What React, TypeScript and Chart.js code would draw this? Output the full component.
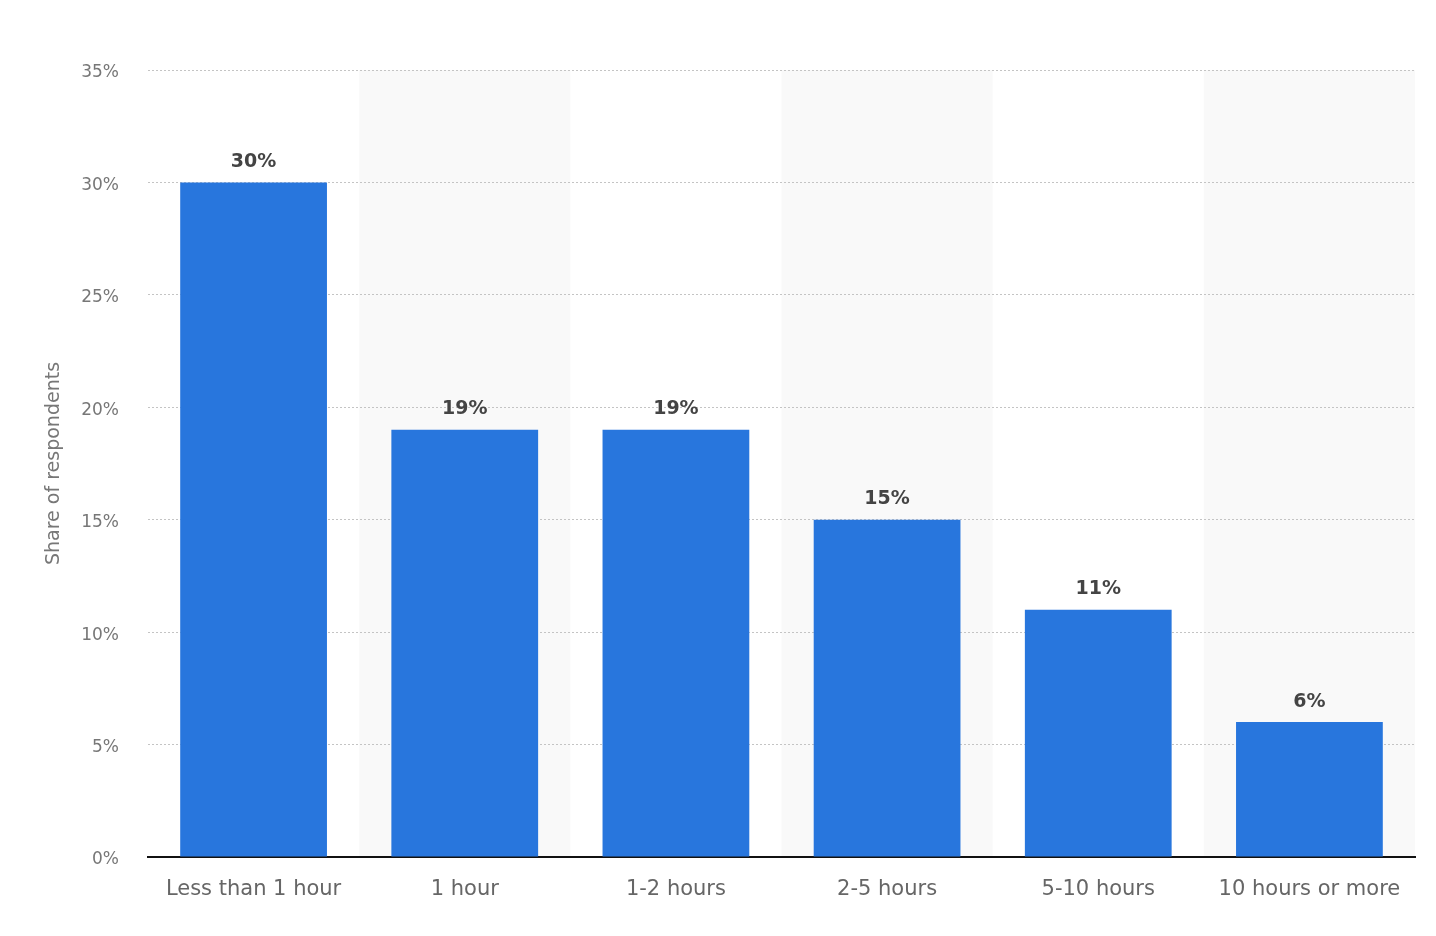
import React, { useEffect, useRef } from 'react';
import Chart from 'chart.js/auto';

const categories = ['Less than 1 hour', '1 hour', '1-2 hours', '2-5 hours', '5-10 hours', '10 hours or more'];
const shares = [30, 19, 19, 15, 11, 6];
const yTicks = [0, 5, 10, 15, 20, 25, 30, 35];

const FONT = '"DejaVu Sans", sans-serif';

// light grey band behind every second category
const bandPlugin = {
    id: 'bands',
    beforeDraw(chart: any) {
        const { ctx, chartArea, scales } = chart;
        const x = scales.x;
        const half = (x.getPixelForValue(1) - x.getPixelForValue(0)) / 2;
        ctx.save();
        ctx.fillStyle = '#f9f9f9';
        categories.forEach((_, i) => {
            if (i % 2 === 1) {
                const c = x.getPixelForValue(i);
                ctx.fillRect(c - half, chartArea.top, half * 2, chartArea.bottom - chartArea.top);
            }
        });
        ctx.restore();
    }
};

const valueLabelPlugin = {
    id: 'valueLabels',
    afterDatasetsDraw(chart: any) {
        const { ctx } = chart;
        const meta = chart.getDatasetMeta(0);
        ctx.save();
        ctx.font = `bold 19px ${FONT}`;
        ctx.fillStyle = '#444';
        ctx.textAlign = 'center';
        ctx.textBaseline = 'bottom';
        meta.data.forEach((bar: any, i: number) => {
            ctx.fillText(`${shares[i]}%`, bar.x, bar.y - 11);
        });
        ctx.restore();
    }
};

export default function App() {
    const canvasRef = useRef<HTMLCanvasElement>(null);
    const chartRef = useRef<Chart | null>(null);

    useEffect(() => {
        document.body.style.margin = '0';
        if (!canvasRef.current) return;
        if (chartRef.current) chartRef.current.destroy();

        chartRef.current = new Chart(canvasRef.current, {
            type: 'bar',
            data: {
                labels: categories,
                datasets: [{
                    data: shares,
                    backgroundColor: '#2876dd',
                    categoryPercentage: 1,
                    barPercentage: 0.695,
                }]
            },
            options: {
                animation: false,
                responsive: false,
                devicePixelRatio: 1,
                layout: { padding: { top: 70, right: 21, left: 0, bottom: 0 } },
                plugins: {
                    legend: { display: false },
                    tooltip: { enabled: false }
                },
                scales: {
                    x: {
                        grid: { display: false, drawTicks: false },
                        border: { display: true, color: '#111', width: 2 },
                        ticks: { color: '#666', font: { family: FONT, size: 21 }, padding: 20, maxRotation: 0 },
                        afterFit(scale: any) { scale.height = 79; }
                    },
                    y: {
                        min: 0,
                        max: 35,
                        afterBuildTicks(scale: any) { scale.ticks = yTicks.map(v => ({ value: v })); },
                        grid: { color: '#c4c4c4', drawTicks: false },
                        border: { display: false, dash: [2, 2] },
                        ticks: {
                            color: '#777',
                            font: { family: FONT, size: 17 },
                            padding: 29,
                            labelOffset: 3,
                            callback: (v: any) => `${v}%`
                        },
                        title: {
                            display: true,
                            text: 'Share of respondents',
                            color: '#777',
                            font: { family: FONT, size: 19 },
                            padding: { top: 43, bottom: 0 }
                        },
                        afterFit(scale: any) { scale.width = 148; }
                    }
                }
            } as any,
            plugins: [bandPlugin, valueLabelPlugin]
        });

        return () => {
            if (chartRef.current) {
                chartRef.current.destroy();
                chartRef.current = null;
            }
        };
    }, []);

    return (
        <div style={{ width: 1436, height: 936 }}>
            <canvas ref={canvasRef} width={1436} height={936}></canvas>
        </div>
    );
}
